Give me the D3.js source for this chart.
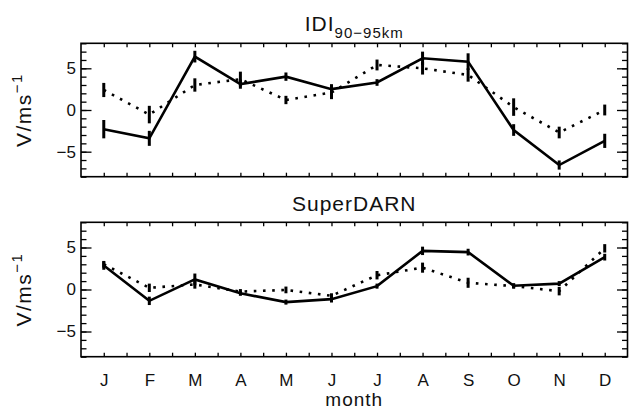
<!DOCTYPE html>
<html>
<head>
<meta charset="utf-8">
<script src="https://cdn.jsdelivr.net/npm/d3@7"></script>
<style>
html,body{margin:0;padding:0;background:#fff;}
svg{display:block;}
</style>
</head>
<body>
<script>
const months = ["J","F","M","A","M","J","J","A","S","O","N","D"];
const yMajorTicks = [-5, 0, 5];
const yMinorTicks = [-8,-7,-6,-5,-4,-3,-2,-1,0,1,2,3,4,5,6,7,8];
const xTicks = [0,0.5,1,1.5,2,2.5,3,3.5,4,4.5,5,5.5,6,6.5,7,7.5,8,8.5,9,9.5,10,10.5,11];

const idiSolid     = [-2.3,-3.4, 6.4, 3.1, 4.0, 2.5, 3.3, 6.2, 5.8,-2.4,-6.6,-3.7];
const idiSolidErr  = [ 1.1, 0.9, 0.7,0.55, 0.5, 0.6, 0.4, 0.8, 1.0, 0.7,0.55,0.85];
const idiDotted    = [ 2.4,-0.55,3.0, 3.7, 1.2, 2.1, 5.4, 5.0, 4.2,0.35,-2.7, 0.0];
const idiDottedErr = [0.85,1.05, 0.8, 0.9, 0.5, 0.8,0.65,0.75, 0.8,1.05, 0.7,0.65];

const sdSolid      = [2.85,-1.35,1.2,-0.45,-1.5,-1.15,0.4,4.6,4.45,0.45,0.7,3.85];
const sdSolidErr   = [ 0.5, 0.5, 0.7, 0.3, 0.3, 0.4, 0.3, 0.5, 0.4, 0.3, 0.3, 0.4];
const sdDotted     = [ 3.0, 0.2, 0.6,-0.25,-0.05,-0.75,1.7,2.6, 0.8, 0.4,-0.2, 4.9];
const sdDottedErr  = [ 0.4, 0.5, 0.5, 0.3, 0.4, 0.3, 0.5, 0.6, 0.6, 0.3, 0.5, 0.5];

const FONT = "'Liberation Sans', Arial, Helvetica, sans-serif";
const W = 629, H = 410;
const svg = d3.select("body").append("svg").attr("width", W).attr("height", H)
  .style("font-family", FONT);

const left = 81, right = 627.5;
const x = d3.scaleLinear().domain([-0.5, 11.5]).range([left, right]);

const panels = [
  {title: "IDI", sub: "90\u221295km", solid: idiSolid, solidErr: idiSolidErr, dotted: idiDotted, dottedErr: idiDottedErr, top: 43.3, bottom: 176.7, titleY: 31},
  {title: "SuperDARN", sub: null, solid: sdSolid, solidErr: sdSolidErr, dotted: sdDotted, dottedErr: sdDottedErr, top: 222.3, bottom: 356.7, titleY: 211}
];

function styleAxis(g, fs) {
  g.select(".domain").remove();
  g.selectAll("line").attr("stroke", "#000").attr("stroke-width", 1.3);
  g.selectAll("text").attr("font-family", FONT).attr("font-size", fs).attr("fill", "#111");
}

panels.forEach((p, pi) => {
  const y = d3.scaleLinear().domain([-8, 8]).range([p.bottom, p.top]);
  const g = svg.append("g");

  g.append("g").attr("transform", `translate(${left},0)`)
    .call(d3.axisLeft(y).tickValues(yMinorTicks).tickSize(-5.5).tickFormat(""))
    .call(a => styleAxis(a, 17));
  g.append("g").attr("transform", `translate(${left},0)`)
    .call(d3.axisLeft(y).tickValues(yMajorTicks).tickSize(-10.5).tickPadding(5).tickFormat(d3.format("d")))
    .call(a => styleAxis(a, 17));
  g.append("g").attr("transform", `translate(${right},0)`)
    .call(d3.axisRight(y).tickValues(yMinorTicks).tickSize(-5.5).tickFormat(""))
    .call(a => styleAxis(a, 17));
  g.append("g").attr("transform", `translate(${right},0)`)
    .call(d3.axisRight(y).tickValues(yMajorTicks).tickSize(-10.5).tickFormat(""))
    .call(a => styleAxis(a, 17));
  g.append("g").attr("transform", `translate(0,${p.top})`)
    .call(d3.axisTop(x).tickValues(xTicks).tickSize(-4).tickFormat(""))
    .call(a => styleAxis(a, 17));
  g.append("g").attr("transform", `translate(0,${p.bottom})`)
    .call(d3.axisBottom(x).tickValues(xTicks).tickSize(-4).tickFormat(""))
    .call(a => styleAxis(a, 17));
  if (pi === 1) {
    g.append("g").attr("transform", `translate(0,${p.bottom})`)
      .call(d3.axisBottom(x).tickValues(d3.range(months.length)).tickSize(0).tickPadding(17).tickFormat(i => months[i]))
      .call(a => styleAxis(a, 17));
  }

  g.append("rect").attr("x", left).attr("y", p.top)
    .attr("width", right - left).attr("height", p.bottom - p.top)
    .attr("fill", "none").attr("stroke", "#000").attr("stroke-width", 1.6);

  const line = d3.line().x((d, i) => x(i)).y(d => y(d));
  g.append("path").datum(p.dotted).attr("d", line)
    .attr("fill", "none").attr("stroke", "#000").attr("stroke-width", 2.6)
    .attr("stroke-dasharray", "2.6,6.6");
  g.append("path").datum(p.solid).attr("d", line)
    .attr("fill", "none").attr("stroke", "#000").attr("stroke-width", 2.6)
    .attr("stroke-linejoin", "miter");

  g.append("g").selectAll("line").data(p.dotted).join("line")
    .attr("x1", (d, i) => x(i)).attr("x2", (d, i) => x(i))
    .attr("y1", (d, i) => y(d - p.dottedErr[i])).attr("y2", (d, i) => y(d + p.dottedErr[i]))
    .attr("stroke", "#000").attr("stroke-width", 3);
  g.append("g").selectAll("line").data(p.solid).join("line")
    .attr("x1", (d, i) => x(i)).attr("x2", (d, i) => x(i))
    .attr("y1", (d, i) => y(d - p.solidErr[i])).attr("y2", (d, i) => y(d + p.solidErr[i]))
    .attr("stroke", "#000").attr("stroke-width", 3);

  const t = svg.append("text").attr("x", (left + right) / 2).attr("y", p.titleY)
    .attr("text-anchor", "middle").attr("font-size", 21).attr("fill", "#111")
    .attr("letter-spacing", 1);
  t.append("tspan").text(p.title);
  if (p.sub) t.append("tspan").attr("font-size", 15).attr("dy", 7).text(p.sub);

  const yc = (p.top + p.bottom) / 2;
  const yl = svg.append("text").attr("transform", `translate(31,${yc}) rotate(-90)`)
    .attr("text-anchor", "middle").attr("font-size", 21).attr("fill", "#111")
    .attr("letter-spacing", 1.5);
  yl.append("tspan").text("V/ms");
  yl.append("tspan").attr("font-size", 15).attr("dy", -9).text("\u22121");
});

svg.append("text").attr("x", (left + right) / 2).attr("y", 406)
  .attr("text-anchor", "middle").attr("font-size", 19).attr("fill", "#111")
  .attr("letter-spacing", 1).text("month");
</script>
</body>
</html>
